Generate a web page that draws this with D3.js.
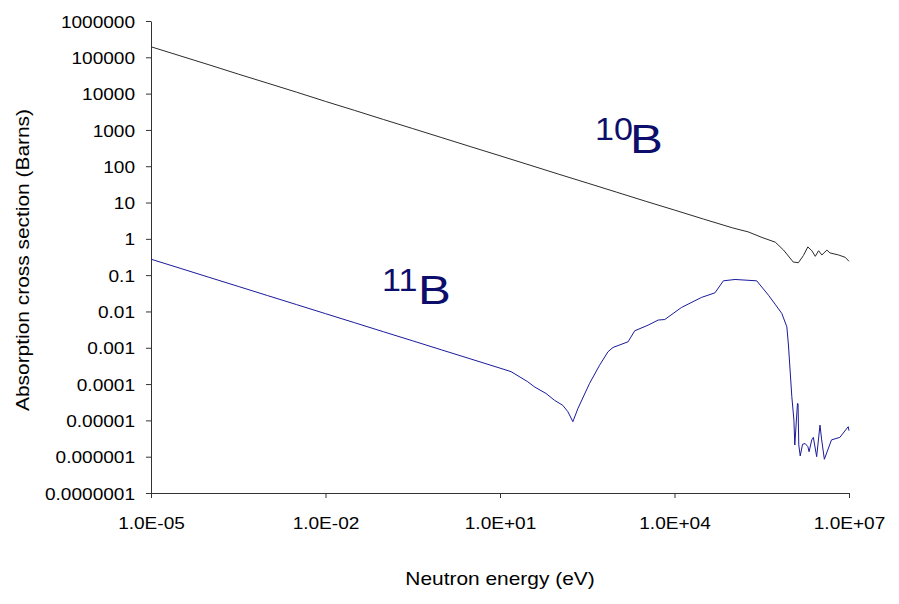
<!DOCTYPE html>
<html>
<head>
<meta charset="utf-8">
<script src="https://cdn.jsdelivr.net/npm/d3@7"></script>
<style>
  html, body { margin: 0; padding: 0; background: #fff; }
  svg { display: block; font-family: "Liberation Sans", Arial, sans-serif; }
</style>
</head>
<body>
<svg id="chart" width="899" height="604"></svg>
<script>
// Neutron absorption cross sections of boron isotopes (barns vs eV)
const energy10B = [1e-5, 3.16e-5, 1e-4, 3.16e-4, 1e-3, 3.16e-3, 1e-2, 3.16e-2, 1e-1, 3.16e-1,
  1, 3.16, 10, 31.6, 100, 316, 1000, 3160, 1e4, 3.16e4, 1e5, 1.86e5, 3.2e5, 5.4e5, 7.5e5,
  1.1e6, 1.35e6, 1.65e6, 1.96e6, 2.3e6, 2.63e6, 3.0e6, 3.42e6, 4.17e6, 4.7e6, 6.6e6, 8.6e6, 1e7];
const sigma10B = [195000, 110000, 62000, 34500, 19500, 11000, 6100, 3450, 1930, 1090,
  612, 344, 194, 109, 61, 34.5, 19.4, 10.9, 6.2, 3.5, 2.0, 1.55, 1.09, 0.81, 0.49,
  0.23, 0.22, 0.35, 0.60, 0.47, 0.33, 0.47, 0.36, 0.49, 0.41, 0.36, 0.31, 0.24];

const energy11B = [1e-5, 3.16e-5, 1e-4, 3.16e-4, 1e-3, 3.16e-3, 1e-2, 3.16e-2, 1e-1, 3.16e-1,
  1, 3.16, 10, 15.5, 30, 39, 62, 86, 120, 147, 179, 219, 347, 515, 720, 877, 1590, 2070,
  3520, 5240, 6810, 13200, 29200, 49600, 69200, 1.1e5, 2.59e5, 4.13e5, 5.36e5, 7.0e5,
  8.53e5, 9.1e5, 1.04e6, 1.13e6, 1.17e6, 1.3e6, 1.33e6, 1.37e6, 1.45e6, 1.59e6, 1.76e6,
  1.96e6, 2.06e6, 2.29e6, 2.44e6, 2.78e6, 3.17e6, 3.39e6, 3.77e6, 5.0e6, 6.95e6, 9.7e6, 1e7];
const sigma11B = [0.275, 0.155, 0.087, 0.049, 0.0275, 0.0155, 0.0087, 0.0049, 0.00275, 0.00155,
  8.7e-4, 4.9e-4, 2.75e-4, 2.2e-4, 1.16e-4, 8.4e-5, 5.5e-5, 3.6e-5, 2.6e-5, 1.73e-5, 9.2e-6,
  2.14e-5, 1.05e-4, 3.3e-4, 7.8e-4, 1.02e-3, 1.46e-3, 2.93e-3, 4.2e-3, 5.8e-3, 6.0e-3,
  0.0129, 0.0244, 0.0326, 0.0698, 0.076, 0.0698, 0.028, 0.0159, 8.8e-3, 3.8e-3, 1.19e-3,
  4.5e-5, 1.02e-5, 2.1e-6, 2.9e-5, 2.9e-5, 2.1e-6, 1.05e-6, 2.2e-6, 2.3e-6, 1.9e-6, 1.37e-6,
  2.9e-6, 3.4e-6, 1.0e-6, 7.4e-6, 2.9e-6, 8.5e-7, 2.9e-6, 3.4e-6, 6.7e-6, 5.2e-6];

const xTickValues = [1e-5, 1e-2, 1e1, 1e4, 1e7];
const xTickLabels = ["1.0E-05", "1.0E-02", "1.0E+01", "1.0E+04", "1.0E+07"];
const yTickValues = [1e6, 1e5, 1e4, 1e3, 1e2, 1e1, 1, 1e-1, 1e-2, 1e-3, 1e-4, 1e-5, 1e-6, 1e-7];
const yTickLabels = ["1000000", "100000", "10000", "1000", "100", "10", "1", "0.1", "0.01",
  "0.001", "0.0001", "0.00001", "0.000001", "0.0000001"];

const xTitle = "Neutron energy (eV)";
const yTitle = "Absorption cross section (Barns)";

const svg = d3.select("#chart");
const plot = { left: 151, right: 849, top: 21, bottom: 493 };

const x = d3.scaleLog().domain([1e-5, 1e7]).range([plot.left, plot.right]);
const y = d3.scaleLog().domain([1e-7, 1e6]).range([plot.bottom, plot.top]);

// widen glyphs a little, as the chart's font runs broader than Arial
function widen(sel, k) {
  sel.each(function () {
    const len = this.getComputedTextLength();
    d3.select(this).attr("textLength", len * k).attr("lengthAdjust", "spacingAndGlyphs");
  });
}

// axes
const xAxis = svg.append("g")
  .attr("transform", `translate(0,${plot.bottom})`)
  .call(d3.axisBottom(x).tickValues(xTickValues)
    .tickFormat((d, i) => xTickLabels[i]).tickSize(5).tickSizeOuter(0));
const yAxis = svg.append("g")
  .attr("transform", `translate(${plot.left},0)`)
  .call(d3.axisLeft(y).tickValues(yTickValues)
    .tickFormat((d, i) => yTickLabels[i]).tickSize(5).tickSizeOuter(0));

[xAxis, yAxis].forEach(g => {
  g.selectAll(".domain, .tick line").attr("stroke", "#333").attr("stroke-width", 1);
  g.selectAll(".tick text").attr("fill", "#000").attr("font-size", 17)
    .attr("font-family", "Liberation Sans, Arial, sans-serif");
});
xAxis.selectAll(".tick text").attr("dy", null).attr("y", 36);
yAxis.selectAll(".tick text").attr("x", -16).attr("dy", "0.36em");
widen(xAxis.selectAll(".tick text"), 1.12);
widen(yAxis.selectAll(".tick text"), 1.12);

// axis titles
const xt = svg.append("text")
  .attr("x", (plot.left + plot.right) / 2).attr("y", 585)
  .attr("text-anchor", "middle").attr("font-size", 19).attr("fill", "#000")
  .text(xTitle);
widen(xt, 1.1);
const yt = svg.append("text")
  .attr("transform", `translate(29,${(plot.top + plot.bottom) / 2 + 3}) rotate(-90)`)
  .attr("text-anchor", "middle").attr("font-size", 19).attr("fill", "#000")
  .text(yTitle);
widen(yt, 1.1);

// curves
const line = d3.line().x(d => x(d[0])).y(d => y(d[1]));
svg.append("path")
  .datum(d3.zip(energy10B, sigma10B))
  .attr("d", line).attr("fill", "none")
  .attr("stroke", "#2b2b2b").attr("stroke-width", 1);
svg.append("path")
  .datum(d3.zip(energy11B, sigma11B))
  .attr("d", line).attr("fill", "none")
  .attr("stroke", "#1a1a9c").attr("stroke-width", 1);

// isotope labels
function isotopeLabel(mass, supX, supY, bX, bY) {
  const s = svg.append("text").attr("x", supX).attr("y", supY)
    .attr("font-size", 31).attr("fill", "#0d0d6b").text(mass);
  widen(s, 1.1);
  const b = svg.append("text").attr("x", bX).attr("y", bY)
    .attr("font-size", 41).attr("fill", "#0d0d6b").text("B");
  widen(b, 1.2);
}
isotopeLabel("10", 595, 140, 630, 153);
isotopeLabel("11", 382, 291, 418, 304);
</script>
</body>
</html>
